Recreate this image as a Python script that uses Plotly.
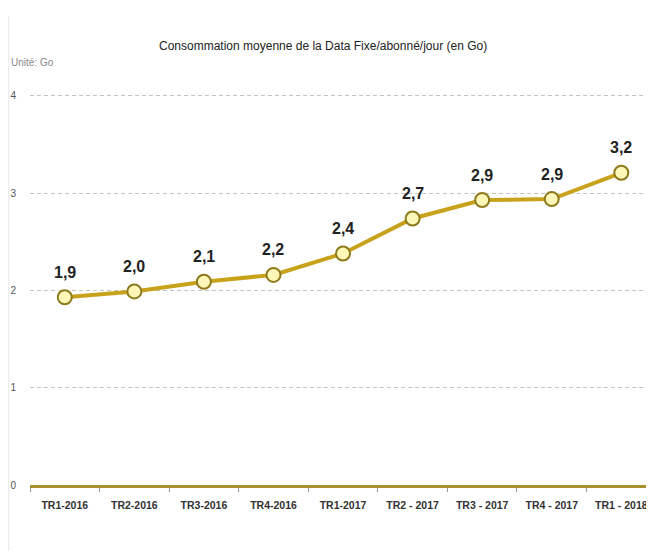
import plotly.graph_objects as go

categories = ["TR1-2016", "TR2-2016", "TR3-2016", "TR4-2016", "TR1-2017",
              "TR2 - 2017", "TR3 - 2017", "TR4 - 2017", "TR1 - 2018"]
values = [1.93, 1.99, 2.09, 2.16, 2.38, 2.74, 2.93, 2.94, 3.21]
labels = [f"{v:.1f}".replace(".", ",") for v in values]
y_ticks = [0, 1, 2, 3, 4]

FONT = "Liberation Sans, Arial, sans-serif"

fig = go.Figure()
fig.add_trace(go.Scatter(
    x=categories, y=values, mode="lines+markers",
    line=dict(color="#C9A21C", width=4),
    marker=dict(size=14, color="#FFF7B8", line=dict(color="#8E7A1C", width=2)),
    cliponaxis=False, showlegend=False,
))

annotations = [
    dict(x=c, y=v, text=t, showarrow=False, yshift=25, xref="x", yref="y",
         font=dict(family=FONT, size=16, color="#222222", weight="bold"))
    for c, v, t in zip(categories, values, labels)
]
annotations += [
    dict(text="Consommation moyenne de la Data Fixe/abonné/jour (en Go)",
         xref="paper", yref="paper", x=0.47, y=1.0, yshift=48,
         showarrow=False, xanchor="center", yanchor="middle",
         font=dict(family=FONT, size=12, color="#222222")),
    dict(text="Unité: Go", xref="paper", yref="paper", x=-0.034, y=1.0, yshift=32,
         showarrow=False, xanchor="left", yanchor="middle",
         font=dict(family=FONT, size=10, color="#888888")),
]

fig.update_layout(
    width=646, height=543,
    margin=dict(l=22, r=0, t=86, b=66),
    paper_bgcolor="white", plot_bgcolor="white",
    xaxis=dict(
        type="category", range=[-0.5, 8.47], automargin=False,
        showline=True, linecolor="#A8912E", linewidth=3,
        ticks="outside", tickson="boundaries", ticklen=4, tickcolor="#999999",
        tickfont=dict(family=FONT, size=10.5, color="#333333", weight="bold"),
        ticklabelstandoff=8,
        showgrid=False, fixedrange=True,
    ),
    yaxis=dict(
        range=[0, 4.02], tickvals=y_ticks, ticktext=[str(t) for t in y_ticks],
        automargin=False,
        showgrid=True, gridcolor="#C4C4C4", griddash="4px,3px", gridwidth=1,
        zeroline=False, showline=False,
        tickfont=dict(family=FONT, size=10, color="#555555"),
        ticklabelstandoff=13,
    ),
    annotations=annotations,
    shapes=[dict(type="line", xref="paper", yref="paper", x0=-0.034, x1=-0.034,
                 y0=-0.2, y1=1.2, line=dict(color="#E6E6E6", width=1))],
)

fig.write_html("out.html")
